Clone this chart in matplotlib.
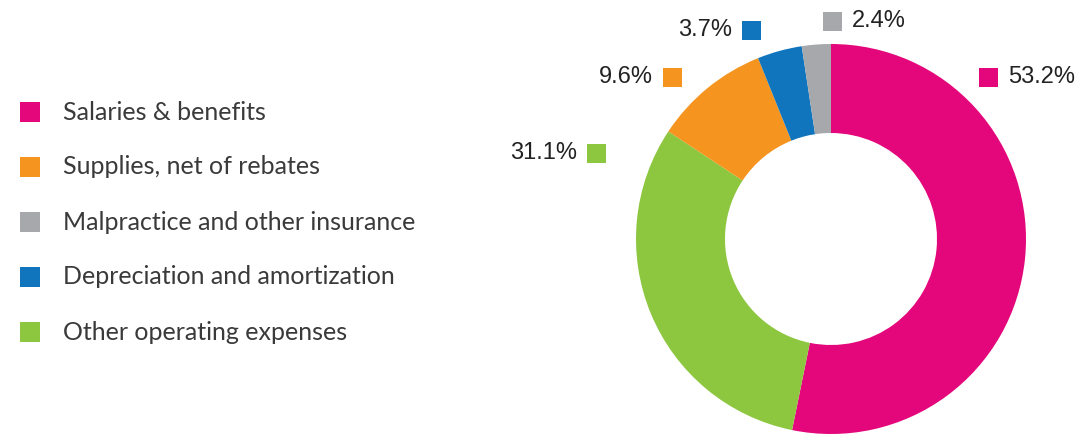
import matplotlib
matplotlib.use("Agg")
import matplotlib.pyplot as plt
from matplotlib.patches import Rectangle

# data
categories = ["Salaries & benefits", "Supplies, net of rebates",
              "Malpractice and other insurance", "Depreciation and amortization",
              "Other operating expenses"]
shares = [53.2, 9.6, 2.4, 3.7, 31.1]
colors = ["#E4077B", "#F5941F", "#A7A8AB", "#1175BD", "#8DC63F"]

# clockwise order of the ring, starting at 12 o'clock
ring_order = [0, 4, 1, 3, 2]

W, H = 1079, 434
fig = plt.figure(figsize=(W / 100, H / 100), dpi=100)
ax = fig.add_axes([0, 0, 1, 1])

# donut
cx, cy, r_out, r_in = 831, H - 239, 195, 106
ax.pie([shares[i] for i in ring_order], colors=[colors[i] for i in ring_order],
       startangle=90, counterclock=False, center=(cx, cy), radius=r_out,
       wedgeprops=dict(width=r_out - r_in, linewidth=0), frame=True)
ax.set_xlim(0, W)
ax.set_ylim(0, H)
ax.set_aspect("equal")
ax.axis("off")

# legend on the left
sq = 19
for k, name in enumerate(categories):
    y = H - (112 + 55 * k)
    ax.add_patch(Rectangle((20, y - 10), 20, 20, color=colors[k], lw=0))
    ax.text(63, y, name, fontsize=18, family=["Lato", "DejaVu Sans"],
            color="#3a3a3a", va="center", ha="left")

# percentage labels around the ring: square left x, centre y (pixels from top), text side
label_pos = {0: (979, 77, "right"), 2: (823, 21, "right"), 3: (742, 30, "left"),
             1: (663, 77, "left"), 4: (587, 153, "left")}
for k, (sx, sy, side) in label_pos.items():
    y = H - sy
    ax.add_patch(Rectangle((sx, y - sq / 2), sq, sq, color=colors[k], lw=0))
    txt = f"{shares[k]}%"
    if side == "right":
        ax.text(sx + sq + 10, y, txt, fontsize=17, family="Liberation Sans",
                color="#222222", va="center", ha="left")
    else:
        ax.text(sx - 10, y, txt, fontsize=17, family="Liberation Sans",
                color="#222222", va="center", ha="right")

fig.savefig("out.png", dpi=100, facecolor="white")
